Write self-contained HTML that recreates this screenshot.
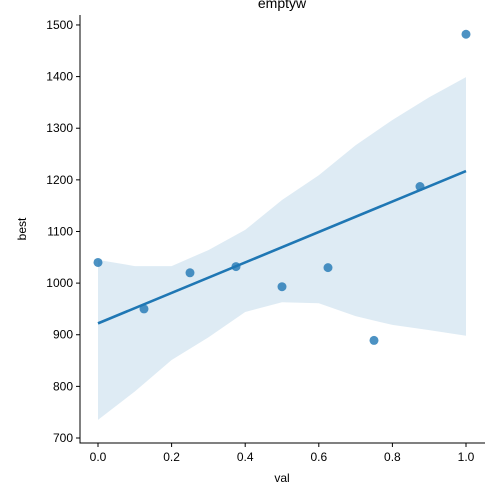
<!DOCTYPE html>
<html><head><meta charset="utf-8"><style>body{margin:0;background:#fff}svg{display:block;font-family:"Liberation Sans",sans-serif}</style></head>
<body>
<svg id="chart" width="500" height="500"></svg>
<script>
const xVals=[0,0.125,0.25,0.375,0.5,0.625,0.75,0.875,1.0];
const yVals=[1040,950,1020,1032,993,1030,889,1187,1482];
const fitLine=[922,1217];
const bandX=[0,0.1,0.2,0.3,0.4,0.5,0.6,0.7,0.8,0.9,1.0];
const bandUpper=[1045,1033,1033,1064,1103,1161,1209,1267,1316,1360,1399];
const bandLower=[735,790,851,895,944,963,961,936,919,909,898];
const xTicks=[0,0.2,0.4,0.6,0.8,1.0];
const yTicks=[700,800,900,1000,1100,1200,1300,1400,1500];
const NS="http://www.w3.org/2000/svg";
const svg=document.getElementById('chart');
const X=v=>98+v*368;
const Y=v=>438-(v-700)*0.5163;
function mk(t,a,p){const e=document.createElementNS(NS,t);for(const k in a)e.setAttribute(k,a[k]);(p||svg).appendChild(e);return e;}
let d='';
bandX.forEach((x,i)=>{d+=(i?'L':'M')+X(x)+','+Y(bandUpper[i]);});
for(let i=bandX.length-1;i>=0;i--)d+='L'+X(bandX[i])+','+Y(bandLower[i]);
const band=mk('path',{d:d+'Z',fill:'#1f77b4','fill-opacity':0.15});


const ln=mk('line',{x1:X(0),y1:Y(fitLine[0]),x2:X(1),y2:Y(fitLine[1]),stroke:'#1f77b4','stroke-width':2.6});


xVals.forEach((x,i)=>{const c=mk('circle',{cx:X(x),cy:Y(yVals[i]),r:4.5,fill:'#1f77b4','fill-opacity':0.8});

});
const ax=mk('path',{d:'M80,15V443H485',fill:'none',stroke:'#000','stroke-width':1});


xTicks.forEach(t=>{mk('line',{x1:X(t),x2:X(t),y1:443,y2:447,stroke:'#000'});
const tx=mk('text',{x:X(t),y:461,'text-anchor':'middle','font-size':12});tx.textContent=t.toFixed(1);

});
yTicks.forEach(t=>{mk('line',{x1:76,x2:80,y1:Y(t),y2:Y(t),stroke:'#000'});
const tx=mk('text',{x:73,y:Y(t)+4,'text-anchor':'end','font-size':12});tx.textContent=t;

});
const xt=mk('text',{x:282,y:482,'text-anchor':'middle','font-size':12});xt.textContent='val';


const yt=mk('text',{x:26,y:229,'text-anchor':'middle','font-size':12,transform:'rotate(-90 26 229)'});yt.textContent='best';


const tt=mk('text',{x:282,y:8,'text-anchor':'middle','font-size':14});tt.textContent='emptyw';


</script>
</body></html>
